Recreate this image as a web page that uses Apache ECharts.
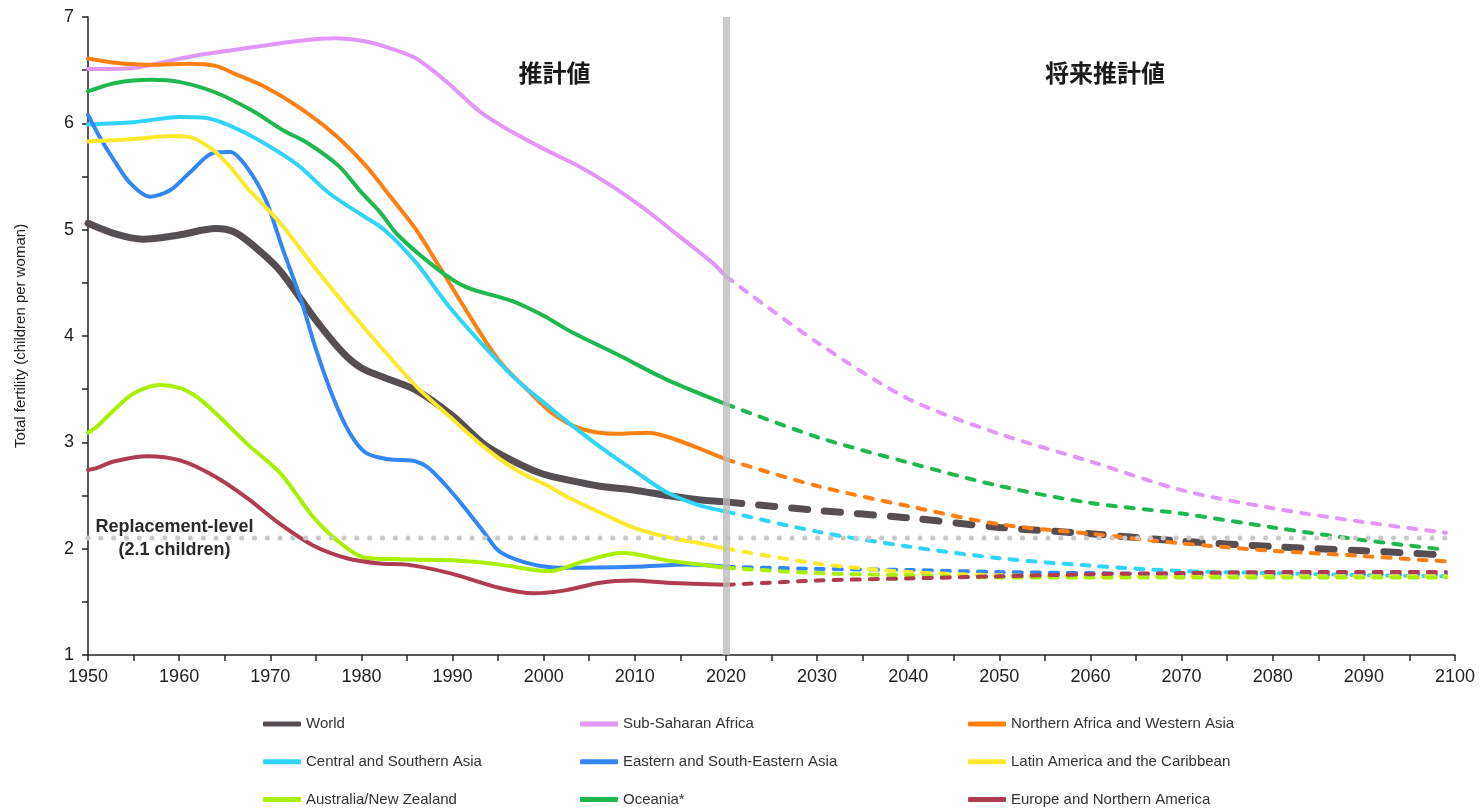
<!DOCTYPE html>
<html><head><meta charset="utf-8">
<script src="https://cdn.jsdelivr.net/npm/echarts@6/dist/echarts.min.js"></script>
<style>html,body{margin:0;padding:0;background:#fff}#c{width:1480px;height:810px}</style>
</head><body><div id="c"></div>
<script>
// ---------- DATA ----------
const seriesNames = ['World','Sub-Saharan Africa','Northern Africa and Western Asia','Central and Southern Asia','Eastern and South-Eastern Asia','Latin America and the Caribbean','Australia/New Zealand','Oceania*','Europe and Northern America'];
const seriesColors = ['#574e54','#e097f7','#ff7f11','#2fd5f8','#3286f6','#fbea2e','#a8ef00','#1fb850','#b03c52'];

const worldHist = [[1950,5.06],[1953,4.96],[1956,4.91],[1960,4.95],[1964,5.01],[1966,4.98],[1968,4.86],[1971,4.62],[1975,4.15],[1978,3.84],[1980,3.70],[1982.5,3.61],[1986,3.49],[1990,3.25],[1993.5,2.98],[1997,2.81],[2000,2.70],[2003,2.64],[2006,2.59],[2010,2.55],[2013.5,2.50],[2017,2.46],[2020,2.44]];
const worldProj = [[2020,2.44],[2030,2.36],[2040,2.29],[2050,2.20],[2060,2.14],[2070,2.07],[2080,2.02],[2090,1.98],[2099,1.94]];

const ssaHist = [[1950,6.51],[1955,6.52],[1958.5,6.58],[1962,6.64],[1966,6.69],[1970,6.74],[1973.5,6.78],[1977,6.80],[1980.5,6.77],[1983,6.71],[1986,6.61],[1989.5,6.38],[1993,6.11],[1996.5,5.92],[2000,5.76],[2004,5.59],[2007.5,5.41],[2011,5.20],[2015,4.93],[2018.5,4.69],[2020,4.56]];
const ssaProj = [[2020,4.56],[2030,3.94],[2040,3.41],[2050,3.08],[2060,2.82],[2070,2.55],[2080,2.38],[2090,2.25],[2099,2.15]];

const nawaHist = [[1950,6.61],[1953,6.57],[1957,6.55],[1961,6.56],[1964,6.54],[1966,6.47],[1969.5,6.34],[1973,6.16],[1977,5.90],[1980.5,5.60],[1983,5.33],[1986,5.00],[1988.5,4.66],[1991.5,4.24],[1995,3.78],[1998.5,3.47],[2001,3.27],[2004,3.13],[2008,3.08],[2011.5,3.09],[2015,3.01],[2018,2.91],[2020,2.84]];
const nawaProj = [[2020,2.84],[2030,2.59],[2040,2.40],[2050,2.23],[2060,2.14],[2070,2.05],[2080,1.98],[2090,1.93],[2099,1.88]];

const csaHist = [[1950,5.99],[1955,6.01],[1960,6.06],[1963,6.05],[1965.5,5.98],[1969,5.83],[1973,5.61],[1976.5,5.34],[1980,5.14],[1982.5,5.00],[1986,4.69],[1989.5,4.29],[1993.5,3.90],[1997,3.59],[2000.5,3.34],[2002.5,3.20],[2006,2.97],[2010,2.73],[2013.5,2.53],[2017,2.41],[2020,2.35]];
const csaProj = [[2020,2.35],[2030,2.16],[2040,2.02],[2050,1.91],[2060,1.84],[2070,1.79],[2080,1.77],[2090,1.75],[2099,1.74]];

const esaHist = [[1950,6.08],[1951.3,5.87],[1952.8,5.66],[1954.6,5.44],[1956.8,5.31],[1959,5.37],[1961.2,5.54],[1963.7,5.72],[1965.6,5.73],[1967.4,5.59],[1969.5,5.28],[1971.4,4.81],[1973.3,4.36],[1975,3.88],[1977,3.40],[1978.7,3.09],[1980.5,2.90],[1983,2.84],[1985.5,2.83],[1987.2,2.77],[1989,2.62],[1991,2.42],[1993.4,2.16],[1995.2,1.97],[1998.9,1.85],[2002.5,1.82],[2010,1.83],[2016,1.85],[2020,1.83]];
const esaProj = [[2020,1.83],[2030,1.81],[2040,1.80],[2050,1.78],[2060,1.77],[2070,1.76],[2080,1.76],[2090,1.76],[2099,1.76]];

const lacHist = [[1950,5.83],[1954.6,5.85],[1959.3,5.88],[1961.2,5.87],[1963.7,5.75],[1965.6,5.59],[1967.4,5.40],[1969.4,5.22],[1971.4,5.03],[1975.1,4.62],[1978.7,4.24],[1982.4,3.87],[1986.1,3.52],[1989.7,3.24],[1993.4,2.96],[1997,2.74],[2000.7,2.58],[2002.5,2.49],[2006.2,2.34],[2009.8,2.20],[2013.5,2.11],[2017.2,2.05],[2020,2.00]];
const lacProj = [[2020,2.00],[2030,1.86],[2040,1.78],[2050,1.75],[2060,1.74],[2070,1.74],[2080,1.74],[2090,1.74],[2099,1.74]];

const anzHist = [[1950,3.09],[1951,3.15],[1952.8,3.30],[1955,3.46],[1957.9,3.54],[1960.1,3.51],[1961.9,3.43],[1963.7,3.30],[1967.4,2.99],[1971.1,2.71],[1974.7,2.30],[1977.3,2.08],[1980.2,1.92],[1984,1.90],[1990,1.89],[1995.2,1.85],[1999,1.80],[2000.7,1.79],[2004.4,1.88],[2008.5,1.96],[2010,1.95],[2013.5,1.89],[2017.2,1.85],[2020,1.82]];
const anzProj = [[2020,1.82],[2030,1.77],[2040,1.75],[2050,1.73],[2060,1.73],[2070,1.73],[2080,1.73],[2090,1.73],[2099,1.73]];

const oceHist = [[1950,6.30],[1953,6.38],[1957,6.41],[1960,6.39],[1964,6.29],[1968,6.12],[1971.5,5.93],[1974,5.82],[1977.5,5.60],[1980,5.35],[1982,5.17],[1984,4.95],[1988.5,4.62],[1991.5,4.46],[1996.5,4.33],[2000,4.19],[2003,4.04],[2008,3.83],[2013.5,3.59],[2020,3.36]];
const oceProj = [[2020,3.36],[2030,3.05],[2040,2.81],[2050,2.59],[2060,2.43],[2070,2.33],[2080,2.20],[2090,2.08],[2099,1.99]];

const enaHist = [[1950,2.74],[1951,2.76],[1952.8,2.82],[1956.5,2.87],[1960.1,2.83],[1963.7,2.69],[1967.4,2.48],[1971.1,2.23],[1974.7,2.03],[1978.4,1.91],[1982,1.86],[1985,1.85],[1989.7,1.77],[1995.2,1.63],[1998.9,1.58],[2002.5,1.61],[2006.2,1.68],[2009.8,1.70],[2013.5,1.68],[2020,1.66]];
const enaProj = [[2020,1.66],[2030,1.70],[2040,1.72],[2050,1.74],[2060,1.76],[2070,1.77],[2080,1.78],[2090,1.78],[2099,1.78]];

const histData = [worldHist, ssaHist, nawaHist, csaHist, esaHist, lacHist, anzHist, oceHist, enaHist];
const projData = [worldProj, ssaProj, nawaProj, csaProj, esaProj, lacProj, anzProj, oceProj, enaProj];

const replacementLevel = 2.1;
const replacementLine = [[1950, replacementLevel],[2099.5, replacementLevel]];
const replacementLabel = 'Replacement-level\n(2.1 children)';
const replacementLabelAt = [1959.5, replacementLevel];
const splitYear = 2020;
const periodLabels = [{text:'推計値', at:[2001.2, 6.47]}, {text:'将来推計値', at:[2061.6, 6.47]}];
const yAxisTitle = 'Total fertility (children per woman)';

// ---------- CHART ----------
const FONT = "'Liberation Sans', Arial, sans-serif";
const chart = echarts.init(document.getElementById('c'), null, {renderer:'canvas'});
const series = [];
histData.forEach((d, i) => {
  series.push({
    name: seriesNames[i], type:'line', data:d, showSymbol:false, symbol:'none',
    smooth:0.3, z: i===0 ? 2 : 3,
    lineStyle:{color:seriesColors[i], width: i===0 ? 7 : 4, cap:'round', join:'round'},
    itemStyle:{color:seriesColors[i]}, silent:true
  });
});
projData.forEach((d, i) => {
  series.push({
    name: seriesNames[i] + ' (projection)', type:'line', data:d, showSymbol:false, symbol:'none',
    smooth:0.3, z: i===0 ? 2 : 3,
    lineStyle:{color:seriesColors[i], width: i===0 ? 7 : 4, cap:'round',
      type: i===0 ? [16,17] : [8,10]},
    itemStyle:{color:seriesColors[i]}, silent:true
  });
});
series.push({
  name:'replacement', type:'line', data:replacementLine, showSymbol:false, symbol:'none', z:4, silent:true,
  lineStyle:{color:'#c8c8c8', width:5, type:[0.1,12.7], cap:'round'},
  markLine:{silent:true, symbol:'none', label:{show:false}, z:5,
    lineStyle:{color:'#bdbdbd', width:7, type:'solid', opacity:0.8},
    data:[{xAxis:splitYear}]}
});
const textLabelBase = {show:true, position:'inside', textBorderWidth:0, textShadowBlur:0, opacity:1};
series.push({
  name:'replacementLabel', type:'scatter', data:[replacementLabelAt], symbolSize:1, z:6, silent:true,
  itemStyle:{color:'rgba(0,0,0,0)'},
  label:Object.assign({}, textLabelBase, {formatter:replacementLabel, fontFamily:FONT, fontWeight:'bold',
    fontSize:18, lineHeight:23, color:'#2a2a2a'})
});
series.push({
  name:'periods', type:'scatter', symbolSize:1, z:6, silent:true,
  itemStyle:{color:'rgba(0,0,0,0)'},
  data: periodLabels.map(p => ({value:p.at, label:{formatter:p.text}})),
  label:Object.assign({}, textLabelBase, {fontFamily:"'Noto Sans CJK JP', sans-serif", fontWeight:'bold',
    fontSize:24, color:'#1a1a1a'})
});

const legendBase = {orient:'vertical', top:716, height:94, itemWidth:38, itemHeight:5, itemGap:21.7, padding:0,
  icon:'roundRect', selectedMode:false,
  textStyle:{fontFamily:FONT, fontSize:15, color:'#333', lineHeight:16}};

chart.setOption({
  animation:false,
  backgroundColor:'#fff',
  grid:{left:88, right:25, top:17, bottom:155, containLabel:false},
  legend:[
    Object.assign({}, legendBase, {left:263, data:[seriesNames[0], seriesNames[3], seriesNames[6]]}),
    Object.assign({}, legendBase, {left:580, data:[seriesNames[1], seriesNames[4], seriesNames[7]]}),
    Object.assign({}, legendBase, {left:968, data:[seriesNames[2], seriesNames[5], seriesNames[8]]})
  ],
  xAxis:{type:'value', min:1950, max:2100, interval:10,
    axisLine:{lineStyle:{color:'#222', width:1.5}},
    axisTick:{show:true, length:6, lineStyle:{color:'#222', width:1.5}},
    minorTick:{show:true, splitNumber:2, length:6, lineStyle:{color:'#222', width:1.5}},
    splitLine:{show:false},
    axisLabel:{fontFamily:FONT, fontSize:18, color:'#222', margin:13, formatter:v => String(v)}},
  yAxis:{type:'value', min:1, max:7, interval:1,
    name:yAxisTitle, nameLocation:'middle', nameGap:60, nameRotate:90,
    nameTextStyle:{fontFamily:FONT, fontSize:15, color:'#222'},
    axisLine:{show:true, lineStyle:{color:'#222', width:1.5}},
    axisTick:{show:true, length:6, lineStyle:{color:'#222', width:1.5}},
    minorTick:{show:true, splitNumber:2, length:6, lineStyle:{color:'#222', width:1.5}},
    splitLine:{show:false},
    axisLabel:{fontFamily:FONT, fontSize:18, color:'#222', margin:14}},
  series: series
});
</script></body></html>
